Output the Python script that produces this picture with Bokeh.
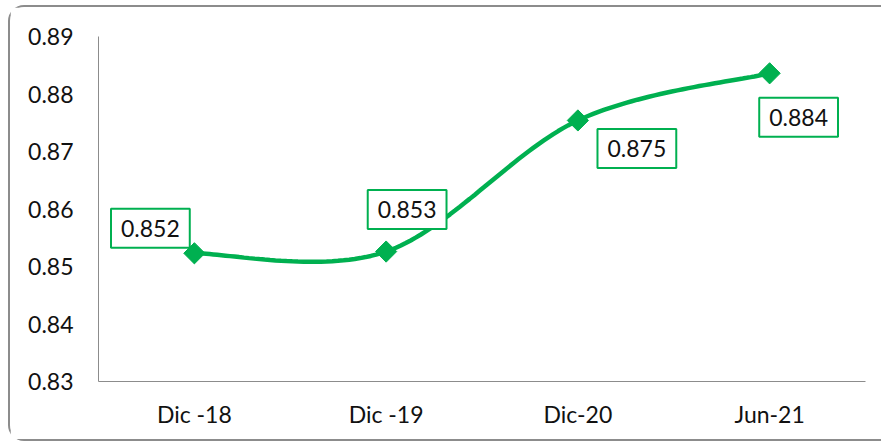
import numpy as np
from bokeh.plotting import figure
from bokeh.models import ColumnDataSource, Label, FixedTicker, Range1d
from bokeh.embed import file_html
from bokeh.resources import INLINE

categories = ["Dic -18", "Dic -19", "Dic-20", "Jun-21"]
values = [0.8523, 0.8526, 0.8754, 0.8836]
value_labels = ["0.852", "0.853", "0.875", "0.884"]
y_ticks = [0.83, 0.84, 0.85, 0.86, 0.87, 0.88, 0.89]

# label placement (screen px) relative to each point
label_dx = [-44, 21, 59, 29]
label_dy = [25, 42, -28, -44]

GREEN = "#00B050"
FONT = "Lato"

xs = np.arange(len(categories)) + 0.5
ys = np.array(values)

# smoothed line (Catmull-Rom through the data points, like Excel's smoothing)
px = np.concatenate([[xs[0]], xs, [xs[-1]]])
py = np.concatenate([[ys[0]], ys, [ys[-1]]])
cx, cy = [], []
t = np.linspace(0, 1, 40)
for i in range(1, len(px) - 2):
    p0x, p1x, p2x, p3x = px[i - 1], px[i], px[i + 1], px[i + 2]
    p0y, p1y, p2y, p3y = py[i - 1], py[i], py[i + 1], py[i + 2]
    b1x, b1y = p1x + (p2x - p0x) / 6, p1y + (p2y - p0y) / 6
    b2x, b2y = p2x - (p3x - p1x) / 6, p2y - (p3y - p1y) / 6
    bx = (1 - t) ** 3 * p1x + 3 * (1 - t) ** 2 * t * b1x + 3 * (1 - t) * t ** 2 * b2x + t ** 3 * p2x
    by = (1 - t) ** 3 * p1y + 3 * (1 - t) ** 2 * t * b1y + 3 * (1 - t) * t ** 2 * b2y + t ** 3 * p2y
    cx.extend(bx.tolist())
    cy.extend(by.tolist())

p = figure(width=873, height=436, output_backend="svg", toolbar_location=None,
           x_range=Range1d(0, len(categories)), y_range=Range1d(y_ticks[0], y_ticks[-1]),
           min_border_left=88, min_border_right=18, min_border_top=29, min_border_bottom=62)
p.styles = {"border": "2px solid #8c8c8c", "border-right": "none",
            "border-radius": "16px 0 0 16px", "box-sizing": "border-box",
            "margin-left": "8px", "margin-top": "5px"}
p.outline_line_color = None
p.xgrid.visible = False
p.ygrid.visible = False
p.background_fill_color = "white"
p.border_fill_color = "white"

p.line(cx, cy, line_color=GREEN, line_width=4.5)
src = ColumnDataSource(dict(x=xs, y=ys))
p.scatter("x", "y", source=src, marker="square", angle=np.pi / 4, size=15,
          fill_color=GREEN, line_color=GREEN)

for x, y, lab, dx, dy in zip(xs, ys, value_labels, label_dx, label_dy):
    p.add_layout(Label(x=float(x), y=float(y), text=lab, x_offset=dx, y_offset=dy,
                       text_align="center", text_baseline="middle", text_font=FONT,
                       text_font_size="23px", text_color="#111111",
                       background_fill_color="white", border_line_color=GREEN,
                       border_line_width=2, padding=(10, 11)))

p.xaxis.ticker = FixedTicker(ticks=xs.tolist())
p.xaxis.major_label_overrides = {float(x): c for x, c in zip(xs, categories)}
p.yaxis.ticker = FixedTicker(ticks=y_ticks)
p.yaxis.major_label_overrides = {v: f"{v:.2f}" for v in y_ticks}
for ax in (p.xaxis, p.yaxis):
    ax.major_tick_line_color = None
    ax.minor_tick_line_color = None
    ax.axis_line_color = "#8c8c8c"
    ax.axis_line_width = 1
    ax.major_label_text_font = FONT
    ax.major_label_text_font_size = "23px"
    ax.major_label_text_color = "#111111"
p.yaxis.major_label_standoff = 19
p.xaxis.major_label_standoff = 12

open("out.html", "w").write(file_html(p, INLINE))
